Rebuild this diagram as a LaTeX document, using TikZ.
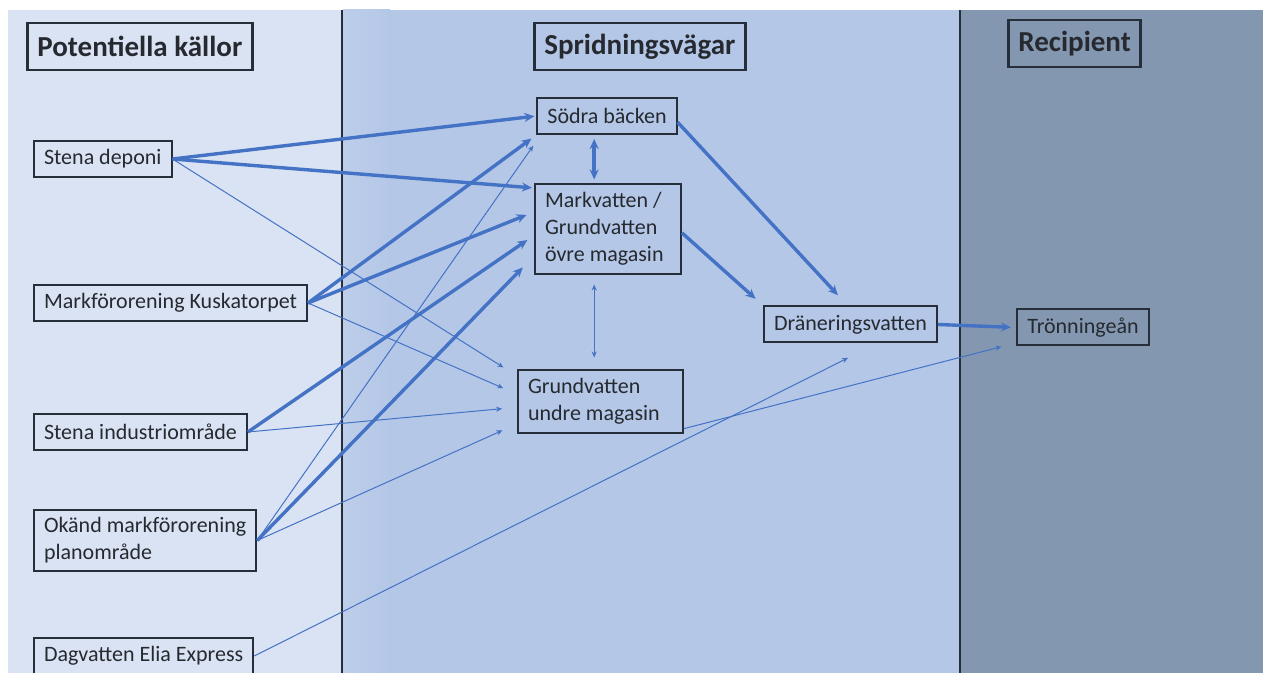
\documentclass[tikz,border=0pt]{standalone}
\usepackage{fontspec}
\setmainfont{Carlito}
\usetikzlibrary{arrows.meta}

\definecolor{leftbg}{HTML}{DAE3F3}
\definecolor{midbg}{HTML}{B4C7E7}
\definecolor{rightbg}{HTML}{8497B0}
\definecolor{boxline}{HTML}{262E3A}
\definecolor{textcol}{HTML}{262A30}
\definecolor{flow}{HTML}{4472C4}

\begin{document}
\begin{tikzpicture}[x=0.5pt, y=-0.5pt,
	box/.style={draw=boxline, line width=1pt, text=textcol, inner xsep=5pt, inner ysep=4pt,
		minimum height=18pt, font=\fontsize{11}{13.5}\selectfont},
	multibox/.style={box, align=flush left},
	title/.style={draw=boxline, line width=1.4pt, text=textcol, inner xsep=5pt,
		minimum height=23.5pt, font=\fontsize{14.5}{17}\selectfont\bfseries},
	mainflow/.style={draw=flow, line width=1.7pt, -{Stealth[length=5pt,width=4.5pt]}},
	mainboth/.style={mainflow, {Stealth[length=5pt,width=4.5pt]}-{Stealth[length=5pt,width=4.5pt]}},
	sideflow/.style={draw=flow, line width=0.5pt, -{Stealth[length=3pt,width=2.6pt]}},
	sideboth/.style={sideflow, {Stealth[length=3pt,width=2.6pt]}-{Stealth[length=3pt,width=2.6pt]}}]

	\useasboundingbox (0, 0) rectangle (1263, 673);

	% zones
	\fill[leftbg]  (8, 10)   rectangle (342, 673);
	\fill[midbg]   (342, 10) rectangle (960, 673);
	\shade[left color=leftbg!25!midbg, right color=midbg] (343, 10) rectangle (390, 673);
	\fill[rightbg] (960, 10) rectangle (1263, 673);
	\draw[boxline, line width=1.2pt] (342, 10) -- (342, 673);
	\draw[boxline, line width=1.2pt] (960, 10) -- (960, 673);

	% headings
	\node[title, anchor=west] (hkallor) at (26, 46.5)   {Potentiella källor};
	\node[title, anchor=west] (hvagar)  at (533, 46.5)  {Spridningsvägar};
	\node[title, anchor=west] (hrec)    at (1007, 43.5) {Recipient};

	% sources
	\node[box, anchor=west] (deponi)    at (33, 159)   {Stena deponi};
	\node[box, anchor=west] (kusk)      at (33, 303)   {Markförorening Kuskatorpet};
	\node[box, anchor=west] (industri)  at (33, 432)   {Stena industriområde};
	\node[multibox, anchor=west] (okand) at (33, 540.5) {Okänd markförorening\\planområde};
	\node[box, anchor=west] (dagvatten) at (33, 656)   {Dagvatten Elia Express};

	% pathways
	\node[box] (sodra) at (607, 116) {Södra bäcken};
	\node[multibox, text width=63pt] (mark) at (608, 229) {Markvatten /\\Grundvatten\\övre magasin};
	\node[multibox, text width=72.5pt] (grund) at (600.5, 401.5) {Grundvatten\\undre magasin};
	\node[box] (dran) at (850.5, 324.5) {Dräneringsvatten};

	% recipient
	\node[box, minimum width=66pt] (tron) at (1083, 327.5) {Trönningeån};

	% main pathways
	\draw[mainflow, shorten >=1pt] (deponi.east) -- (sodra.west);
	\draw[mainflow, shorten >=1pt] (deponi.east) -- (mark.151);
	\draw[mainflow, shorten >=3pt] (kusk.east) -- (sodra.south west);
	\draw[mainflow, shorten >=4pt] (kusk.east) -- (mark.167);
	\draw[mainflow, shorten >=4pt] (industri.east) -- (mark.185);
	\draw[mainflow, shorten >=8pt] (okand.east) -- (mark.200);
	\draw[mainflow, shorten >=7pt] (sodra.-5) -- (dran.99);
	\draw[mainflow, shorten >=5pt] (mark.-3) -- (dran.north west);
	\draw[mainflow, shorten >=2.5pt] (dran.east) -- (tron.west);
	\draw[mainboth, shorten <=2pt, shorten >=2pt] (sodra.236) -- (sodra.236 |- mark.north);

	% minor pathways
	\draw[sideboth, shorten <=5pt, shorten >=6pt] (sodra.236 |- mark.south) -- (sodra.236 |- grund.north);
	\draw[sideflow, shorten >=8pt] (deponi.east) -- (grund.163);
	\draw[sideflow, shorten >=7.5pt] (kusk.east) -- (grund.175);
	\draw[sideflow, shorten >=7.5pt] (industri.east) -- (grund.184);
	\draw[sideflow, shorten >=8pt] (okand.east) -- (grund.195);
	\draw[sideflow, shorten >=6.5pt] (okand.east) -- (sodra.196);
	\draw[sideflow, shorten >=16pt] (dagvatten.east) -- (dran.-36);
	\draw[sideflow, shorten >=7.5pt] (grund.-18) -- (tron.193);

\end{tikzpicture}
\end{document}
